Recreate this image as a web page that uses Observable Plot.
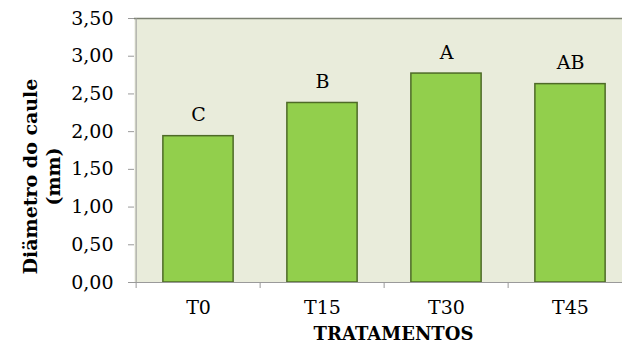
<!DOCTYPE html>
<html>
<head>
<meta charset="utf-8">
<script src="https://cdn.jsdelivr.net/npm/d3@7"></script>
<script src="https://cdn.jsdelivr.net/npm/@observablehq/plot@0.6"></script>
<style>
  html, body { margin: 0; padding: 0; background: #ffffff; }
  #chart svg { display: block; }
</style>
</head>
<body>
<div id="chart"></div>
<script>
const categories = ["T0", "T15", "T30", "T45"];
const values = [1.94, 2.38, 2.77, 2.63];
const letters = ["C", "B", "A", "AB"];
const yTicks = [0, 0.5, 1, 1.5, 2, 2.5, 3, 3.5];
const yTitle = ["Diämetro do caule", "(mm)"];
const xTitle = "TRATAMENTOS";

const data = categories.map((c, i) => ({cat: c, value: values[i], letter: letters[i]}));

const W = 622, H = 347;
const mL = 134, mR = 0, mT = 18, mB = 65;
const xRange = [mL, 633];
const step = (xRange[1] - xRange[0]) / categories.length;
const barInset = (step - 71) / 2;
const font = "'DejaVu Serif', serif";
const fmt = v => d3.format(".2f")(v).replace(".", ",");

const chart = Plot.plot({
  width: W,
  height: H,
  marginLeft: mL,
  marginRight: mR,
  marginTop: mT,
  marginBottom: mB,
  style: {fontFamily: font, fontSize: "19px", color: "#000", background: "#fff", overflow: "visible"},
  x: {type: "band", domain: categories, range: xRange, padding: 0},
  y: {domain: [0, 3.5], range: [H - mB, mT]},
  marks: [
    Plot.frame({fill: "#e9ecdb", stroke: null}),
    Plot.ruleY([3.5], {stroke: "#7b8070", strokeWidth: 1.5}),
    Plot.barY(data, {x: "cat", y: "value", fill: "#92cf4c", stroke: "#4e6a27", strokeWidth: 1.5, insetLeft: barInset, insetRight: barInset}),
    Plot.ruleY([0], {stroke: "#9a9a9a", strokeWidth: 1}),
    Plot.ruleX(categories, {x: d => d, y1: 0, y2: 0, insetBottom: -6, dx: -step / 2, stroke: "#9a9a9a", strokeWidth: 1}),
    Plot.axisY({ticks: yTicks, tickFormat: fmt, tickSize: 6, tickPadding: 15, stroke: "#9a9a9a", fill: "#000", fontSize: 19, label: null}),
    Plot.ruleX([0], {x: () => categories[0], dx: -step / 2, y1: 0, y2: 3.5, stroke: "#9a9a9a"}),
    Plot.axisX({tickSize: 0, tickPadding: 18, fill: "#000", fontSize: 19, label: null}),
    Plot.text(data, {x: "cat", y: "value", text: "letter", dy: -21, lineAnchor: "middle", fontSize: 19, fill: "#000"}),
    Plot.text([xTitle], {frameAnchor: "bottom", dx: 393 - (W + mL) / 2, dy: 51.5, lineAnchor: "middle", fontWeight: "bold", fontSize: 18, fill: "#000"}),
    Plot.text([yTitle[0]], {frameAnchor: "left", dx: 30 - mL, dy: 26, rotate: -90, textAnchor: "middle", lineAnchor: "middle", fontWeight: "bold", fontSize: 19, fill: "#000"}),
    Plot.text([yTitle[1]], {frameAnchor: "left", dx: 53 - mL, dy: 26, rotate: -90, textAnchor: "middle", lineAnchor: "middle", fontWeight: "bold", fontSize: 19, fill: "#000"})
  ]
});
document.getElementById("chart").appendChild(chart);
</script>
</body>
</html>
